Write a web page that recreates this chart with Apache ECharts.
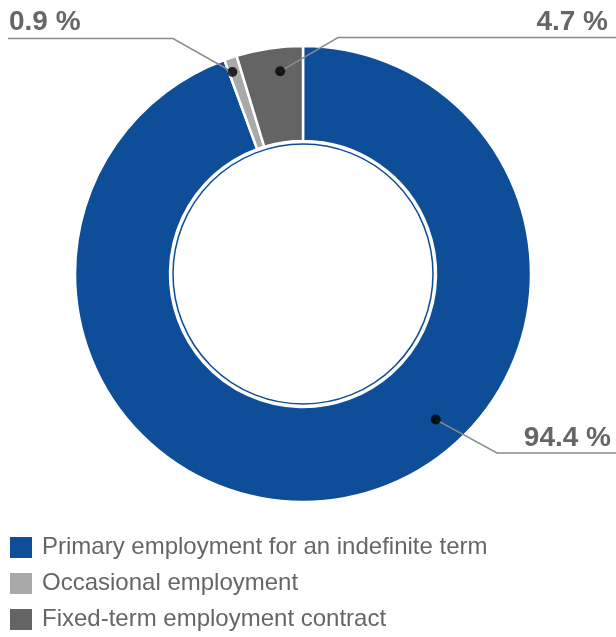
<!DOCTYPE html>
<html>
<head>
<meta charset="UTF-8">
<title>Employment types</title>
<script src="https://cdn.jsdelivr.net/npm/echarts@6/dist/echarts.min.js"></script>
<style>
  html, body { margin: 0; padding: 0; background: #fff; }
</style>
</head>
<body>
<div id="main" style="width:616px;height:637px"></div>
<script type="text/javascript">
// data
var categories = ['Primary employment for an indefinite term', 'Occasional employment', 'Fixed-term employment contract'];
var shares = [94.4, 0.9, 4.7];
var colors = ['#0e4d98', '#a9a9a9', '#646464'];

// where the black marker sits inside each slice (fraction of the slice, radius in px)
var dotFrac = [0.405, 0.27, 0.62];
var dotRadius = [197, 214, 204];

// label text + leader line layout
var labelPos = [
  {x: 611, y: 438, align: 'right', elbow: [497, 453], end: [616, 453]},
  {x: 9, y: 22, align: 'left', elbow: [173, 38.5], end: [8, 38.5]},
  {x: 608, y: 22, align: 'right', elbow: [338, 37.5], end: [616, 37.5]}
];

var CX = 303, CY = 274, R = 228;
var FONT = 'Liberation Sans, Arial, sans-serif';

var myChart = echarts.init(document.getElementById('main'));

// angle (in % of the circle) of each marker
var start = 0;
var dots = shares.map(function (v, i) {
  var a = start + v * dotFrac[i];
  start += v;
  return [dotRadius[i], a];
});

var option = {
  backgroundColor: '#fff',
  animation: false,
  legend: {
    orient: 'vertical',
    left: 8,
    top: 535,
    height: 110,
    padding: 0,
    icon: 'rect',
    itemWidth: 24,
    itemHeight: 23,
    itemGap: 11,
    selectedMode: false,
    data: categories,
    textStyle: { fontSize: 24, color: '#666', fontFamily: FONT, padding: [0, 0, 0, 4] }
  },
  polar: [
    { center: [CX, CY], radius: R },
    { center: [CX, CY], radius: 130 }
  ],
  angleAxis: [
    { polarIndex: 0, type: 'value', min: 0, max: 100, startAngle: 90, clockwise: true, show: false },
    { polarIndex: 1, type: 'value', min: 0, max: 100, startAngle: 90,
      axisLine: { show: true, lineStyle: { color: colors[0], width: 1.5 } },
      axisTick: { show: false }, axisLabel: { show: false }, splitLine: { show: false } }
  ],
  radiusAxis: [
    { polarIndex: 0, type: 'value', min: 0, max: R, show: false },
    { polarIndex: 1, type: 'value', min: 0, max: 1, show: false }
  ],
  series: [
    {
      type: 'pie',
      z: 1,
      center: [CX, CY],
      radius: [133, R],
      startAngle: 90,
      clockwise: true,
      avoidLabelOverlap: false,
      itemStyle: { borderColor: '#fff', borderWidth: 2.5 },
      emphasis: { disabled: true },
      data: categories.map(function (c, i) {
        return { name: c, value: shares[i], itemStyle: { color: colors[i] } };
      }),
      label: {
        show: true,
        formatter: function (p) { return p.value.toFixed(1) + ' %'; },
        fontSize: 28,
        fontWeight: 'bold',
        fontFamily: FONT,
        color: '#666'
      },
      labelLine: { show: false },
      labelLayout: function (p) {
        var l = labelPos[p.dataIndex];
        return { x: l.x, y: l.y, align: l.align, verticalAlign: 'middle' };
      }
    },
    {
      type: 'scatter',
      z: 5,
      coordinateSystem: 'polar',
      polarIndex: 0,
      symbol: 'circle',
      symbolSize: 10,
      silent: true,
      itemStyle: { color: '#000' },
      data: dots
    }
  ]
};

myChart.setOption(option);

// leader lines: marker -> elbow -> underline
var leaders = dots.map(function (d, i) {
  var p = myChart.convertToPixel({ polarIndex: 0 }, d);
  return {
    type: 'polyline',
    z: 4,
    silent: true,
    shape: { points: [p, labelPos[i].elbow, labelPos[i].end] },
    style: { stroke: '#8c8c8c', lineWidth: 1.5, fill: null }
  };
});

myChart.setOption({ graphic: leaders });
</script>
</body>
</html>
